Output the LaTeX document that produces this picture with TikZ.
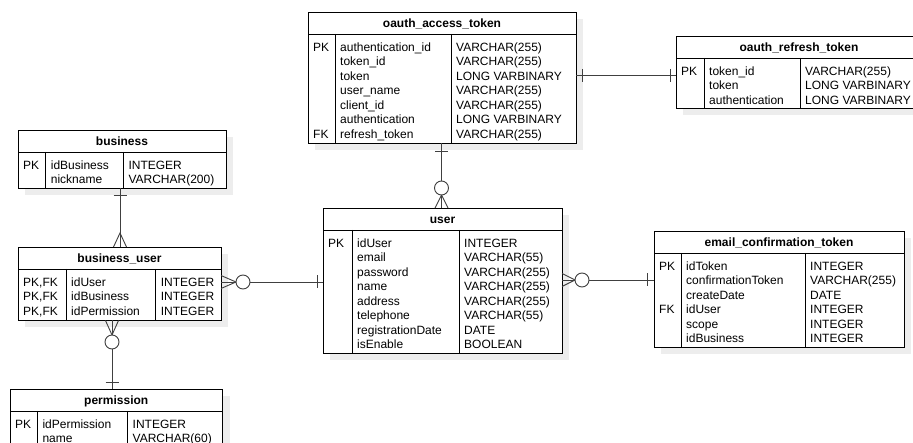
\documentclass[tikz,border=0pt]{standalone}
\usepackage{fontspec}
\setmainfont{Liberation Sans}
\usetikzlibrary{calc,fit}

\newcommand\ercell{\fontsize{12}{14.5}\selectfont}

\tikzset{
  tshadow/.style={fill=black!7},
  tframe/.style={draw=black, fill=white, line width=0.9pt, inner sep=0pt, outer sep=0pt},
  tline/.style={draw=black, line width=0.9pt},
  ttitle/.style={anchor=base, inner sep=0pt, font=\ercell\bfseries},
  tkey/.style={anchor=base west, inner sep=0pt, font=\ercell},
  tcol/.style={anchor=north west, inner sep=0pt, align=left, font=\ercell},
  rel/.style={draw=black!75, line width=0.9pt},
}

% entity box: name, left, right, header rule, bottom, first column rule, second column rule, title
\newcommand\ertable[8]{%
  \fill[tshadow] (#2+7,#4-15) rectangle (#3+7,#5+7);
  \node[tframe, fit={(#2,#4-22) (#3,#5)}] (#1) {};
  \draw[tline] (#2,#4) -- (#3,#4) (#6,#4) -- (#6,#5) (#7,#4) -- (#7,#5);
  \node[ttitle] (#1-title) at ({(#2+#3)/2},#4-6) {#8};
}
% column of attribute lines: name, x, first baseline, lines
\newcommand\ercol[4]{\node[tcol] (#1) at (#2,#3-10.15) {\strut #4};}
% single key marker: name, x, baseline, text
\newcommand\erkey[4]{\node[tkey] (#1) at (#2,#3) {#4};}

% relationship end marks
\newcommand\erbarH[2]{\draw[rel] ($(#1)+(#2,-6.5)$) -- ($(#1)+(#2,6.5)$);}
\newcommand\erbarV[2]{\draw[rel] ($(#1)+(-6.5,#2)$) -- ($(#1)+(6.5,#2)$);}
\newcommand\ercrowH[2]{\draw[rel] ($(#1)+(0,-6.5)$) -- ($(#1)+(#2,0)$) -- ($(#1)+(0,6.5)$);}
\newcommand\ercrowV[2]{\draw[rel] ($(#1)+(-6.5,0)$) -- ($(#1)+(0,#2)$) -- ($(#1)+(6.5,0)$);}
\newcommand\erringH[2]{\draw[rel, fill=white] ($(#1)+(#2,0)$) circle[radius=7pt];}
\newcommand\erringV[2]{\draw[rel, fill=white] ($(#1)+(0,#2)$) circle[radius=7pt];}

\begin{document}
\begin{tikzpicture}[x=1pt, y=-1pt]
\useasboundingbox (0,0) rectangle (913,443);
\clip (0,0) rectangle (913,443);
\fill[white] (0,0) rectangle (913,443);

% ---------- oauth_access_token ----------
\ertable{oat}{308}{576}{34}{143}{335}{451}{oauth\_access\_token}
\erkey{oat-pk}{313}{51.2}{PK}
\erkey{oat-fk}{313}{138.2}{FK}
\ercol{oat-n}{340}{51.2}{authentication\_id\\token\_id\\token\\user\_name\\client\_id\\authentication\\refresh\_token}
\ercol{oat-t}{456}{51.2}{VARCHAR(255)\\VARCHAR(255)\\LONG VARBINARY\\VARCHAR(255)\\VARCHAR(255)\\LONG VARBINARY\\VARCHAR(255)}

% ---------- oauth_refresh_token ----------
\ertable{ort}{676}{922}{58}{108.5}{704}{800}{oauth\_refresh\_token}
\erkey{ort-pk}{681}{75.2}{PK}
\ercol{ort-n}{709}{75.2}{token\_id\\token\\authentication}
\ercol{ort-t}{805}{75.2}{VARCHAR(255)\\LONG VARBINARY\\LONG VARBINARY}

% ---------- business ----------
\ertable{biz}{18}{226}{152}{188}{45.7}{123.3}{business}
\erkey{biz-pk}{23}{169.2}{PK}
\ercol{biz-n}{50.7}{169.2}{idBusiness\\nickname}
\ercol{biz-t}{128.3}{169.2}{INTEGER\\VARCHAR(200)}

% ---------- business_user ----------
\ertable{bu}{18}{221}{269}{320.5}{66}{155.7}{business\_user}
\ercol{bu-k}{23}{286.2}{PK,FK\\PK,FK\\PK,FK}
\ercol{bu-n}{71}{286.2}{idUser\\idBusiness\\idPermission}
\ercol{bu-t}{160.7}{286.2}{INTEGER\\INTEGER\\INTEGER}

% ---------- permission ----------
\ertable{perm}{10}{222.5}{411}{450}{37.3}{127.5}{permission}
\erkey{perm-pk}{15}{428.2}{PK}
\ercol{perm-n}{42.3}{428.2}{idPermission\\name}
\ercol{perm-t}{132.5}{428.2}{INTEGER\\VARCHAR(60)}

% ---------- user ----------
\ertable{user}{323}{562}{230}{353}{352}{459}{user}
\erkey{user-pk}{328}{247.2}{PK}
\ercol{user-n}{357}{247.2}{idUser\\email\\password\\name\\address\\telephone\\registrationDate\\isEnable}
\ercol{user-t}{464}{247.2}{INTEGER\\VARCHAR(55)\\VARCHAR(255)\\VARCHAR(255)\\VARCHAR(255)\\VARCHAR(55)\\DATE\\BOOLEAN}

% ---------- email_confirmation_token ----------
\ertable{ect}{654}{904}{253}{347.5}{681}{805}{email\_confirmation\_token}
\erkey{ect-pk}{659}{270.2}{PK}
\erkey{ect-fk}{659}{313.7}{FK}
\ercol{ect-n}{686}{270.2}{idToken\\confirmationToken\\createDate\\idUser\\scope\\idBusiness}
\ercol{ect-t}{810}{270.2}{INTEGER\\VARCHAR(255)\\DATE\\INTEGER\\INTEGER\\INTEGER}

% ---------- relationships ----------
% access token -- refresh token (one to one)
\coordinate (r1a) at (oat.east |- 0,75.5);
\coordinate (r1b) at (ort.west |- 0,75.5);
\draw[rel] (r1a) -- (r1b);
\erbarH{r1a}{6}
\erbarH{r1b}{-6}

% access token -- user (one to zero-or-many)
\coordinate (r2a) at (oat.south -| 441.5,0);
\coordinate (r2b) at (user.north -| 441.5,0);
\draw[rel] (r2a) -- (r2b);
\erbarV{r2a}{8.5}
\ercrowV{r2b}{-13}
\erringV{r2b}{-20}

% business -- business_user (one to many)
\coordinate (r3a) at (biz.south -| 120,0);
\coordinate (r3b) at (bu.north -| 120,0);
\draw[rel] (r3a) -- (r3b);
\erbarV{r3a}{7}
\ercrowV{r3b}{-14}

% business_user -- user
\coordinate (r4a) at (bu.east |- 0,282);
\coordinate (r4b) at (user.west |- 0,282);
\draw[rel] (r4a) -- (r4b);
\ercrowH{r4a}{15}
\erringH{r4a}{22}
\erbarH{r4b}{-6}

% business_user -- permission
\coordinate (r5a) at (bu.south -| 112,0);
\coordinate (r5b) at (perm.north -| 112,0);
\draw[rel] (r5a) -- (r5b);
\ercrowV{r5a}{14.5}
\erringV{r5a}{21.5}
\erbarV{r5b}{-7}

% user -- email_confirmation_token
\coordinate (r6a) at (user.east |- 0,280);
\coordinate (r6b) at (ect.west |- 0,280);
\draw[rel] (r6a) -- (r6b);
\ercrowH{r6a}{13}
\erringH{r6a}{20}
\erbarH{r6b}{-7}
\end{tikzpicture}
\end{document}
